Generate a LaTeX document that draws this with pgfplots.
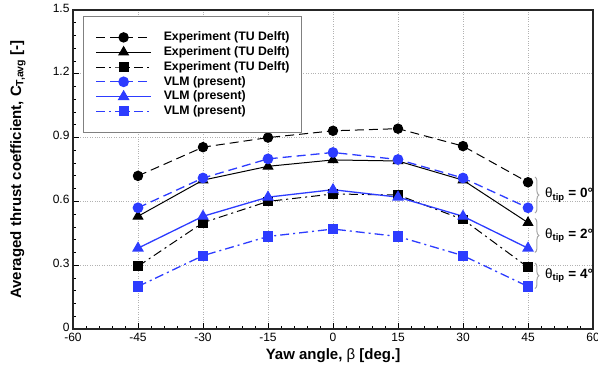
\documentclass[border=0pt]{standalone}
\usepackage{fontspec}
\setmainfont{Liberation Sans}
\usepackage{pgfplots}
\pgfplotsset{compat=1.18}
\usetikzlibrary{decorations.pathreplacing}
\definecolor{vblue}{RGB}{45,60,255}
\begin{document}
\begin{tikzpicture}[x=1pt,y=1pt]
\begin{axis}[
  scale only axis, width=520pt, height=319pt,
  at={(0,0)}, anchor=south west,
  xmin=-60, xmax=60, ymin=0, ymax=1.5,
  xtick={-60,-45,-30,-15,0,15,30,45,60},
  ytick={0,0.3,0.6,0.9,1.2,1.5},
  yticklabels={0,0.3,0.6,0.9,1.2,1.5},
  minor x tick num=4, minor y tick num=4,
  tick align=inside, tick pos=left,
  major tick length=6pt, minor tick length=3pt,
  tick style={black, line width=0.8pt},
  grid=major, major grid style={gray!60, dotted, line width=0.7pt},
  axis line style={line width=1.4pt, black!85},
  ticklabel style={font=\fontsize{12}{13}\selectfont},
  yticklabel style={yshift=2pt},
  xticklabel style={yshift=-1pt},
  /pgf/number format/assume math mode=true,
  xlabel={Yaw angle, \textmd{β} [deg.]},
  ylabel={Averaged thrust coefficient, C\textsubscript{T,avg} [-]},
  label style={font=\bfseries\fontsize{15}{17}\selectfont},
  xlabel style={at={([yshift=-27pt]axis description cs:0.5,0)}, anchor=center},
  ylabel style={at={([xshift=-55pt]axis description cs:0,0.5)}, anchor=center},
  clip=false,
  legend style={at={(axis description cs:0.019,0.981)}, anchor=north west,
    draw=gray, line width=1.2pt, fill=white,
    font=\bfseries\fontsize{12.3}{13}\selectfont,
    inner xsep=12pt, inner ysep=15pt,
    nodes={inner sep=0pt, text height=9pt, text depth=2.5pt},
    row sep=3.3pt,
    cells={anchor=west},
    /tikz/column 1/.style={column sep=12pt}},
  legend image code/.code={\draw[mark repeat=2, mark phase=2] plot coordinates {(0pt,0pt) (27.5pt,0pt) (55pt,0pt)};},
]
% Experiment theta=0
\addplot[black, line width=1pt, dash pattern=on 9pt off 5pt, mark=*, mark size=4.7pt, mark options={solid}]
  coordinates {(-45,0.72) (-30,0.855) (-15,0.90) (0,0.932) (15,0.942) (30,0.86) (45,0.69)};
\addlegendentry{Experiment (TU Delft)}
% Experiment theta=2
\addplot[black, line width=1pt, solid, mark=triangle*, mark size=5.5pt, mark options={solid}]
  coordinates {(-45,0.53) (-30,0.70) (-15,0.765) (0,0.795) (15,0.79) (30,0.70) (45,0.50)};
\addlegendentry{Experiment (TU Delft)}
% Experiment theta=4
\addplot[black, line width=1pt, dash pattern=on 9pt off 4pt on 2pt off 4pt, mark=square*, mark size=4.4pt, mark options={solid}]
  coordinates {(-45,0.295) (-30,0.50) (-15,0.60) (0,0.635) (15,0.63) (30,0.515) (45,0.29)};
\addlegendentry{Experiment (TU Delft)}
% VLM theta=0
\addplot[vblue, line width=1.3pt, dash pattern=on 9pt off 5pt, mark=*, mark size=4.7pt, mark options={solid}]
  coordinates {(-45,0.57) (-30,0.71) (-15,0.80) (0,0.83) (15,0.797) (30,0.71) (45,0.57)};
\addlegendentry{VLM (present)}
% VLM theta=2
\addplot[vblue, line width=1.3pt, solid, mark=triangle*, mark size=5.5pt, mark options={solid}]
  coordinates {(-45,0.38) (-30,0.53) (-15,0.62) (0,0.655) (15,0.62) (30,0.53) (45,0.38)};
\addlegendentry{VLM (present)}
% VLM theta=4
\addplot[vblue, line width=1.3pt, dash pattern=on 9pt off 4pt on 2pt off 4pt, mark=square*, mark size=4.4pt, mark options={solid}]
  coordinates {(-45,0.20) (-30,0.345) (-15,0.435) (0,0.47) (15,0.435) (30,0.345) (45,0.20)};
\addlegendentry{VLM (present)}
% annotations
\draw[gray!70, line width=1pt, decorate, decoration={brace, amplitude=4pt}] (axis cs:46.6,0.715) -- (axis cs:46.6,0.545);
\draw[gray!70, line width=1pt, decorate, decoration={brace, amplitude=4pt}] (axis cs:46.6,0.52) -- (axis cs:46.6,0.36);
\draw[gray!70, line width=1pt, decorate, decoration={brace, amplitude=4pt}] (axis cs:46.6,0.31) -- (axis cs:46.6,0.19);
\node[anchor=west, inner sep=0pt, font=\bfseries\fontsize{13.5}{15}\selectfont] at (axis cs:48.9,0.63) {\textmd{θ}\textsubscript{tip} = 0°};
\node[anchor=west, inner sep=0pt, font=\bfseries\fontsize{13.5}{15}\selectfont] at (axis cs:48.9,0.44) {\textmd{θ}\textsubscript{tip} = 2°};
\node[anchor=west, inner sep=0pt, font=\bfseries\fontsize{13.5}{15}\selectfont] at (axis cs:48.9,0.25) {\textmd{θ}\textsubscript{tip} = 4°};
\end{axis}
\pgfresetboundingbox
\useasboundingbox (-73,-49) rectangle (525,329);
\end{tikzpicture}
\end{document}
